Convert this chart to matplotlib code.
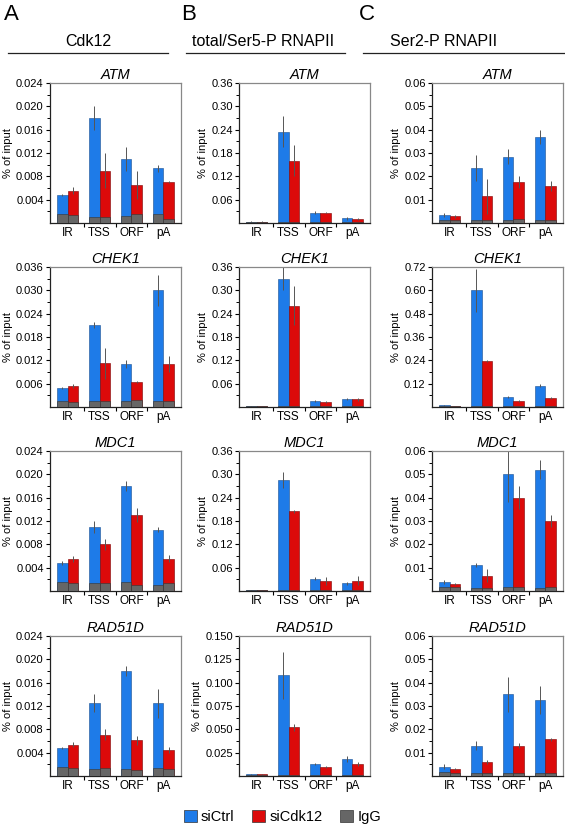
import matplotlib
matplotlib.use('Agg')
import matplotlib.pyplot as plt
import numpy as np

plt.rcParams['font.family'] = ['Liberation Sans', 'DejaVu Sans']

# data
regions = ['IR', 'TSS', 'ORF', 'pA']
genes = ['ATM', 'CHEK1', 'MDC1', 'RAD51D']
panel_letters = ['A', 'B', 'C']
col_titles = ['Cdk12', 'total/Ser5-P RNAPII', 'Ser2-P RNAPII']

# column A: Cdk12 ChIP
cdk12_ctrl = [[0.0048, 0.018, 0.011, 0.0094],
              [0.0048, 0.021, 0.011, 0.030],
              [0.0048, 0.011, 0.018, 0.0105],
              [0.0048, 0.0125, 0.018, 0.0125]]
cdk12_ctrl_err = [[0.0002, 0.002, 0.002, 0.0006],
                  [0.0003, 0.0008, 0.001, 0.004],
                  [0.0003, 0.001, 0.0008, 0.0004],
                  [0.0002, 0.0015, 0.0009, 0.0025]]
cdk12_kd = [[0.0055, 0.009, 0.0066, 0.007],
            [0.0055, 0.0113, 0.0065, 0.011],
            [0.0055, 0.008, 0.013, 0.0055],
            [0.0054, 0.0071, 0.0061, 0.0045]]
cdk12_kd_err = [[0.0006, 0.003, 0.0024, 0.0002],
                [0.0005, 0.004, 0.0003, 0.002],
                [0.0005, 0.001, 0.0012, 0.0006],
                [0.0005, 0.0009, 0.0008, 0.0005]]
cdk12_igg_ctrl = [[0.0015, 0.001, 0.0012, 0.0015],
                  [0.0016, 0.0015, 0.0016, 0.0016],
                  [0.0016, 0.0013, 0.0016, 0.0011],
                  [0.0016, 0.0012, 0.0012, 0.0013]]
cdk12_igg_kd = [[0.0013, 0.001, 0.0015, 0.0007],
                [0.0014, 0.0016, 0.0018, 0.0016],
                [0.0014, 0.0014, 0.0011, 0.0013],
                [0.0014, 0.0013, 0.001, 0.0012]]

# column B: total/Ser5-P RNAPII
pol_ctrl = [[0.003, 0.235, 0.027, 0.012],
            [0.002, 0.33, 0.016, 0.020],
            [0.002, 0.285, 0.032, 0.020],
            [0.002, 0.108, 0.013, 0.018]]
pol_ctrl_err = [[0.001, 0.04, 0.003, 0.003],
                [0.001, 0.03, 0.002, 0.003],
                [0.001, 0.02, 0.003, 0.004],
                [0.0005, 0.025, 0.001, 0.003]]
pol_kd = [[0.003, 0.16, 0.027, 0.010],
          [0.002, 0.26, 0.012, 0.020],
          [0.002, 0.205, 0.025, 0.027],
          [0.002, 0.052, 0.010, 0.013]]
pol_kd_err = [[0.001, 0.04, 0.002, 0.002],
              [0.001, 0.05, 0.003, 0.004],
              [0.001, 0.004, 0.01, 0.012],
              [0.0005, 0.004, 0.001, 0.002]]
pol_igg_ctrl = [[0.002, 0.002, 0.002, 0.002],
                [0.002, 0.002, 0.002, 0.002],
                [0.002, 0.002, 0.002, 0.002],
                [0.001, 0.001, 0.001, 0.001]]
pol_igg_kd = [[0.002, 0.002, 0.002, 0.002],
              [0.002, 0.002, 0.002, 0.002],
              [0.002, 0.002, 0.002, 0.002],
              [0.001, 0.001, 0.001, 0.001]]

# column C: Ser2-P RNAPII
ser2_ctrl = [[0.0035, 0.0235, 0.0285, 0.037],
             [0.008, 0.60, 0.05, 0.11],
             [0.0038, 0.011, 0.050, 0.052],
             [0.004, 0.013, 0.035, 0.0325]]
ser2_ctrl_err = [[0.001, 0.0055, 0.0033, 0.003],
                 [0.002, 0.11, 0.006, 0.008],
                 [0.001, 0.0009, 0.012, 0.004],
                 [0.001, 0.002, 0.0075, 0.006]]
ser2_kd = [[0.0028, 0.0115, 0.0175, 0.0158],
           [0.006, 0.235, 0.03, 0.045],
           [0.003, 0.0065, 0.040, 0.030],
           [0.003, 0.006, 0.013, 0.0157]]
ser2_kd_err = [[0.0006, 0.0075, 0.0025, 0.002],
               [0.001, 0.005, 0.004, 0.004],
               [0.0006, 0.0028, 0.005, 0.0025],
               [0.0005, 0.0008, 0.001, 0.0006]]
ser2_igg_ctrl = [[0.0012, 0.0012, 0.0014, 0.0012],
                 [0.004, 0.004, 0.004, 0.004],
                 [0.0018, 0.0014, 0.0018, 0.0012],
                 [0.0016, 0.0014, 0.0014, 0.0014]]
ser2_igg_kd = [[0.0012, 0.0012, 0.0016, 0.0012],
               [0.004, 0.004, 0.004, 0.004],
               [0.0016, 0.0014, 0.0016, 0.0016],
               [0.0014, 0.0012, 0.0012, 0.0014]]

# axis settings per panel: (ymax, major step, decimals)
cdk12_axis = [(0.024, 0.004, 3), (0.036, 0.006, 3), (0.024, 0.004, 3), (0.024, 0.004, 3)]
pol_axis = [(0.36, 0.06, 2), (0.36, 0.06, 2), (0.36, 0.06, 2), (0.150, 0.025, 3)]
ser2_axis = [(0.06, 0.01, 2), (0.72, 0.12, 2), (0.06, 0.01, 2), (0.06, 0.01, 2)]

columns = [
    (cdk12_ctrl, cdk12_ctrl_err, cdk12_kd, cdk12_kd_err, cdk12_igg_ctrl, cdk12_igg_kd, cdk12_axis),
    (pol_ctrl, pol_ctrl_err, pol_kd, pol_kd_err, pol_igg_ctrl, pol_igg_kd, pol_axis),
    (ser2_ctrl, ser2_ctrl_err, ser2_kd, ser2_kd_err, ser2_igg_ctrl, ser2_igg_kd, ser2_axis),
]

blue = '#1e7be8'
red = '#dc0a0a'
gray = '#666666'

W, H = 565, 826
fig = plt.figure(figsize=(W / 100, H / 100), dpi=100)

ax_left = [50, 239, 432]
ax_w = 131
ax_top = [83, 267, 451, 636]
ax_h = 140

x = np.arange(len(regions))
bw = 0.32

for c in range(3):
    ctrl, ctrl_err, kd, kd_err, igg_c, igg_k, axis_set = columns[c]
    for r in range(4):
        ax = fig.add_axes([ax_left[c] / W, 1 - (ax_top[r] + ax_h) / H, ax_w / W, ax_h / H])
        ekw = dict(ecolor='#555555', elinewidth=0.7, capsize=0)
        ax.bar(x - bw / 2, ctrl[r], bw, color=blue, edgecolor='#1a4f8f', linewidth=0.4,
               yerr=ctrl_err[r], error_kw=ekw, zorder=2)
        ax.bar(x + bw / 2, kd[r], bw, color=red, edgecolor='#7a0000', linewidth=0.4,
               yerr=kd_err[r], error_kw=ekw, zorder=2)
        ax.bar(x - bw / 2, igg_c[r], bw, color=gray, edgecolor='#333333', linewidth=0.4, zorder=3)
        ax.bar(x + bw / 2, igg_k[r], bw, color=gray, edgecolor='#333333', linewidth=0.4, zorder=3)
        ymax, step, dec = axis_set[r]
        ax.set_ylim(0, ymax)
        ax.set_xlim(-0.55, 3.55)
        majors = np.arange(step, ymax + step / 2, step)
        ax.set_yticks(majors)
        ax.set_yticklabels([f'{v:.{dec}f}' for v in majors])
        ax.set_yticks(np.arange(step / 2, ymax, step), minor=True)
        ax.set_xticks(x)
        ax.set_xticklabels(regions)
        ax.set_xticks([0.5, 1.5, 2.5], minor=True)
        ax.tick_params(axis='y', which='major', length=3, width=0.8, labelsize=8, pad=1.5)
        ax.tick_params(axis='y', which='minor', length=2, width=0.7)
        ax.tick_params(axis='x', which='major', length=0, labelsize=8.5, pad=3)
        ax.tick_params(axis='x', which='minor', length=3, width=0.8)
        for s in ['left', 'bottom']:
            ax.spines[s].set_color('#222222')
            ax.spines[s].set_linewidth(0.9)
        for s in ['top', 'right']:
            ax.spines[s].set_color('#888888')
            ax.spines[s].set_linewidth(0.9)
        ax.set_ylabel('% of input', fontsize=8, labelpad=2)
        ax.set_title(genes[r], fontsize=10.5, style='italic', pad=3)

# column headers
head_span = [(8, 168), (186, 345), (363, 565)]
head_center = [88, 263, 444]
for c in range(3):
    x0, x1 = head_span[c]
    fig.text(x0 / W - 0.008, 1 - 14 / H, panel_letters[c], fontsize=16, va='center', ha='left')
    fig.text(head_center[c] / W, 1 - 41 / H, col_titles[c], fontsize=11.5, ha='center', va='center')
    fig.add_artist(plt.Line2D([x0 / W, x1 / W], [1 - 53 / H, 1 - 53 / H], color='#222222', lw=0.9))

# legend
handles = [plt.Rectangle((0, 0), 1, 1, facecolor=col, edgecolor='#333333', linewidth=0.5)
           for col in [blue, red, gray]]
fig.legend(handles, ['siCtrl', 'siCdk12', 'IgG'], loc='center', bbox_to_anchor=(0.5, 1 - 817 / H),
           ncol=3, frameon=False, fontsize=10.5, handlelength=0.9, handleheight=0.9,
           handletextpad=0.3, columnspacing=1.2)

fig.savefig('out.png', dpi=100)
